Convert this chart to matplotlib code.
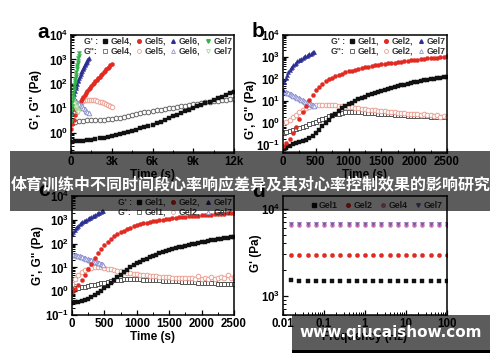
import matplotlib
matplotlib.use('Agg')
import matplotlib.pyplot as plt
from matplotlib.lines import Line2D
from matplotlib.patches import Rectangle
from matplotlib.ticker import LogLocator, NullFormatter, FixedLocator, MultipleLocator

plt.rcParams['font.family'] = ['Liberation Sans', 'DejaVu Sans']
plt.rcParams['font.weight'] = 'bold'
plt.rcParams['axes.labelweight'] = 'bold'
plt.rcParams['mathtext.fontset'] = 'custom'
plt.rcParams['mathtext.rm'] = 'Liberation Sans:bold'
plt.rcParams['mathtext.bf'] = 'Liberation Sans:bold'
plt.rcParams['mathtext.default'] = 'rm'

# ---------------- panel a (time sweep, 0-12k s) ----------------
t_a4 = list(range(0, 12001, 300))
a_gel4_g1 = [0.44, 0.46, 0.47, 0.48, 0.50, 0.52, 0.55, 0.59, 0.63, 0.68, 0.74, 0.79, 0.87, 0.95,
             1.07, 1.20, 1.35, 1.51, 1.70, 1.95, 2.19, 2.51, 2.88, 3.39, 3.98, 4.68, 5.50, 6.46,
             7.59, 8.91, 10.2, 12.0, 13.8, 16.2, 19.1, 21.9, 25.7, 30.2, 34.7, 40.7, 46.8]
a_gel4_g2 = [2.5, 2.9, 3.0, 3.1, 3.2, 3.2, 3.3, 3.4, 3.5, 3.6, 3.7, 3.9, 4.2, 4.6, 5.0, 5.5, 5.9,
             6.3, 6.8, 7.2, 7.8, 8.3, 8.9, 9.5, 10.2, 10.7, 11.2, 12.0, 12.9, 13.8, 14.8, 15.8,
             17.0, 18.2, 19.1, 20.0, 20.9, 21.9, 22.9, 24.0, 24.5]
t_a5 = list(range(0, 3001, 100))
a_gel5_g1 = [1.4, 2.2, 3.5, 5.6, 8.3, 11.5, 15.1, 19.5, 24.5, 30.2, 36.3, 43.7, 51.3, 60.3, 70.8,
             83.2, 95.5, 112, 129, 148, 170, 195, 224, 257, 295, 339, 389, 447, 513, 589, 676]
t_a5b = list(range(300, 3001, 150))
a_gel5_g2 = [6.3, 9.5, 13.2, 16.6, 19.5, 21.4, 22.4, 22.9, 22.9, 22.4, 21.4, 20.4, 19.1, 17.8,
             16.2, 14.8, 13.5, 12.3, 11.2]
t_a6 = list(range(0, 1301, 50))
a_gel6_g1 = [3.2, 6.3, 11.2, 17.8, 26.9, 38.0, 51.3, 66.1, 83.2, 102, 126, 151, 182, 214, 251,
             295, 339, 389, 447, 513, 575, 646, 724, 813, 912, 1023, 1148]
t_a6b = list(range(0, 1301, 100))
a_gel6_g2 = [26, 25, 23, 21, 19.5, 17.4, 15.5, 13.8, 12.0, 10.7, 9.3, 8.1, 7.1, 6.3]
t_a7 = list(range(0, 601, 25))
a_gel7_g1 = [2.8, 5.0, 8.3, 12.6, 18.2, 25.1, 33.1, 43.7, 56.2, 70.8, 87.1, 107, 132, 158, 191,
             229, 316, 398, 479, 589, 708, 891, 1122, 1413, 1778]
t_a7b = list(range(0, 551, 50))
a_gel7_g2 = [28, 25, 22, 19.5, 17, 14.8, 12.9, 11.2, 9.8, 8.7, 7.9, 7.2]

# ---------------- panels b and c (0-2500 s) ----------------
t_bc = list(range(0, 2501, 50))
t_g7 = list(range(0, 481, 20))
b_gel1_g1 = [0.071, 0.079, 0.095, 0.112, 0.132, 0.148, 0.162, 0.178, 0.209, 0.263, 0.355, 0.501,
             0.724, 1.05, 1.48, 2.04, 2.75, 3.63, 4.68, 5.89, 7.24, 8.71, 10.2, 12.0, 14.1, 16.2,
             18.6, 20.9, 23.4, 26.3, 29.5, 33.1, 36.3, 39.8, 43.7, 47.9, 52.5, 56.2, 61.7, 66.1,
             70.8, 75.9, 81.3, 87.1, 93.3, 97.7, 105, 110, 115, 120, 126]
b_gel1_g2 = [0.35, 0.40, 0.44, 0.48, 0.54, 0.60, 0.69, 0.79, 0.91, 1.05, 1.20, 1.38, 1.58, 1.82,
             2.04, 2.29, 2.51, 2.75, 2.95, 3.09, 3.16, 3.16, 3.16, 3.09, 3.09, 3.02, 2.95, 2.88,
             2.82, 2.75, 2.69, 2.63, 2.57, 2.51, 2.45, 2.40, 2.34, 2.29, 2.24, 2.19, 2.19, 2.14,
             2.09, 2.04, 2.04, 2.00, 1.95, 1.95, 1.91, 1.86, 1.86]
b_gel2_g1 = [0.089, 0.126, 0.2, 0.355, 0.708, 1.58, 3.16, 6.31, 11.2, 20.0, 31.6, 45.7, 61.7, 79.4,
             97.7, 117, 138, 158, 178, 200, 224, 245, 269, 295, 316, 339, 363, 389, 417, 437, 468,
             490, 513, 537, 562, 589, 617, 646, 676, 708, 741, 776, 794, 832, 871, 891, 933, 955,
             1000, 1023, 1072]
b_gel2_g2 = [1.0, 1.2, 1.48, 1.86, 2.4, 3.16, 3.98, 4.79, 5.5, 6.17, 6.61, 6.92, 7.08, 7.08, 7.08,
             6.92, 6.61, 6.31, 6.03, 5.75, 5.5, 5.25, 5.01, 4.79, 4.57, 4.37, 4.17, 3.98, 3.8, 3.72,
             3.55, 3.47, 3.31, 3.16, 3.09, 3.02, 2.95, 2.82, 2.75, 2.69, 2.63, 2.57, 2.4, 2.51,
             2.29, 2.45, 2.19, 2.34, 2.0, 2.14, 1.95]
b_gel7_g1 = [31.6, 70.8, 112, 158, 209, 263, 316, 372, 437, 501, 562, 631, 708, 776, 851, 933,
             1023, 1096, 1175, 1259, 1349, 1445, 1514, 1622, 1698]
b_gel7_g2 = [28.2, 26.9, 25.7, 24.5, 23.4, 21.9, 20.4, 19.1, 17.8, 16.6, 15.5, 14.5, 13.5, 12.6,
             11.7, 11.0, 10.2, 9.55, 8.91, 8.32, 7.76, 7.24, 6.92, 6.61, 6.31]

c_gel1_g1 = [0.331, 0.339, 0.355, 0.38, 0.417, 0.468, 0.55, 0.661, 0.813, 1.02, 1.32, 1.7, 2.24,
             2.95, 3.89, 5.01, 6.46, 8.13, 10.0, 12.3, 14.8, 17.4, 20.4, 23.4, 26.9, 30.9, 34.7,
             38.9, 43.7, 47.9, 52.5, 57.5, 63.1, 69.2, 74.1, 79.4, 87.1, 93.3, 100, 105, 112, 120,
             126, 135, 141, 151, 158, 166, 174, 182, 191]
c_gel1_g2 = [1.32, 1.38, 1.41, 1.48, 1.55, 1.62, 1.74, 1.86, 2.0, 2.14, 2.29, 2.45, 2.63, 2.82,
             2.95, 3.09, 3.16, 3.24, 3.24, 3.24, 3.16, 3.16, 3.09, 3.02, 3.02, 2.95, 2.88, 2.82,
             2.75, 2.75, 2.69, 2.63, 2.57, 2.57, 2.51, 2.45, 2.4, 2.4, 2.34, 2.29, 2.29, 2.24,
             2.19, 2.19, 2.14, 2.09, 2.09, 2.04, 2.0, 2.0, 1.95]
c_gel2_g1 = [0.89, 1.2, 1.74, 2.82, 4.79, 8.32, 14.5, 24.5, 39.8, 60.3, 87.1, 120, 158, 204, 251,
             302, 355, 407, 468, 525, 589, 646, 708, 759, 813, 871, 933, 977, 1023, 1072, 1122,
             1175, 1230, 1259, 1318, 1349, 1413, 1445, 1479, 1514, 1549, 1585, 1622, 1660, 1698,
             1738, 1778, 1820, 1862, 1905, 1950]
c_gel2_g2 = [2.0, 3.16, 4.79, 6.31, 7.59, 8.71, 9.55, 10.0, 10.2, 10.0, 9.55, 8.91, 8.32, 7.76,
             7.24, 6.76, 6.31, 6.03, 5.75, 5.5, 5.25, 5.01, 4.79, 4.68, 4.47, 4.37, 4.17, 4.07,
             3.98, 3.89, 3.8, 3.72, 3.63, 3.63, 3.55, 3.55, 3.47, 3.47, 3.39, 4.17, 3.39, 3.63,
             3.31, 3.98, 3.39, 3.55, 3.8, 3.47, 4.57, 3.72, 3.98]
c_gel7_g1 = [251, 316, 380, 447, 513, 575, 646, 708, 776, 851, 933, 1000, 1072, 1148, 1230, 1318,
             1413, 1514, 1622, 1738, 1862, 1995, 2138, 2291, 2455]
c_gel7_g2 = [35.5, 34.7, 33.9, 32.4, 31.6, 30.2, 28.8, 28.2, 26.9, 25.7, 24.5, 23.4, 22.4, 21.4,
             20.4, 19.5, 18.6, 17.8, 17.0, 16.2, 15.5, 14.8, 14.1, 13.5, 12.9]

# ---------------- panel d (frequency sweep) ----------------
freq_d = [0.0158, 0.0251, 0.0398, 0.0631, 0.1, 0.158, 0.251, 0.398, 0.631, 1.0, 1.58, 2.51,
          3.98, 6.31, 10.0, 15.8, 25.1, 39.8, 63.1, 100.0]
d_gel1 = [1500, 1495, 1490, 1490, 1485, 1490, 1485, 1480, 1485, 1480, 1480, 1478, 1480, 1475,
          1478, 1475, 1475, 1472, 1475, 1470]
d_gel2 = [2960, 2955, 2960, 2950, 2955, 2950, 2950, 2945, 2950, 2945, 2945, 2940, 2945, 2940,
          2940, 2938, 2940, 2935, 2938, 2935]
d_gel4 = [6500, 6490, 6500, 6490, 6495, 6485, 6490, 6480, 6485, 6480, 6480, 6475, 6480, 6470,
          6475, 6470, 6470, 6465, 6470, 6460]
d_gel7 = [6650, 6640, 6650, 6640, 6645, 6635, 6640, 6630, 6635, 6630, 6630, 6625, 6630, 6620,
          6625, 6620, 6620, 6615, 6620, 6610]

# colours / markers per gel: (marker, filled colour, open colour)
sty_bc = {
    'Gel1': ('s', '#111111', '#555555'),
    'Gel2': ('o', '#e02a22', '#eba093'),
    'Gel7': ('^', '#2c2f91', '#9093d2'),
}
sty_a = {
    'Gel4': ('s', '#111111', '#666666'),
    'Gel5': ('o', '#e02a22', '#eba093'),
    'Gel6': ('^', '#2c2f91', '#9093d2'),
    'Gel7': ('v', '#2fb44a', '#a3d98f'),
}

fig = plt.figure(figsize=(5.0, 3.62), dpi=100)
fig.patch.set_facecolor('white')

W, H = 500.0, 362.0
def add_ax(x0, y0, x1, y1):
    return fig.add_axes([x0 / W, 1 - y1 / H, (x1 - x0) / W, (y1 - y0) / H])

ax_a = add_ax(71, 35, 234, 153)
ax_b = add_ax(283, 35, 447, 153)
ax_c = add_ax(72, 196, 234, 315)
ax_d = add_ax(283, 196, 447, 315)

def pts(ax, x, y, marker, color, filled, ms=2.9):
    if filled:
        ax.plot(x, y, linestyle='none', marker=marker, ms=ms, mfc=color, mec=color, mew=0.3)
    else:
        ax.plot(x, y, linestyle='none', marker=marker, ms=ms + 0.4, mfc='white', mec=color, mew=0.7)

def style_log_axes(ax):
    ax.set_yscale('log')
    ax.yaxis.set_major_locator(LogLocator(base=10, numticks=20))
    ax.yaxis.set_minor_locator(LogLocator(base=10, subs=range(2, 10), numticks=20))
    ax.yaxis.set_minor_formatter(NullFormatter())
    ax.tick_params(which='both', direction='in', top=False, right=False, labelsize=8.3, pad=2)
    ax.tick_params(which='major', length=3.5, width=0.9)
    ax.tick_params(which='minor', length=2, width=0.7)
    for s in ax.spines.values():
        s.set_linewidth(1.1)

def gel_legend(ax, styles, fontsize):
    blank = Line2D([], [], linestyle='none', marker=None)
    handles = [blank, blank]
    labels = ["G' :", 'G":']
    names = list(styles)
    for i, n in enumerate(names):
        m, cf, co = styles[n]
        handles.append(Line2D([], [], linestyle='none', marker=m, ms=2.6, mfc=cf, mec=cf))
        handles.append(Line2D([], [], linestyle='none', marker=m, ms=2.8, mfc='white', mec=co, mew=0.6))
        lab = n + (',' if i < len(names) - 1 else '')
        labels += [lab, lab]
    ax.legend(handles, labels, ncol=len(names) + 1, loc='upper right', frameon=False,
              fontsize=fontsize, handlelength=0.6, handletextpad=0.35, columnspacing=0.5,
              labelspacing=0.12, borderaxespad=0.1, borderpad=0.1, labelcolor='#333333')

# panel a
pts(ax_a, t_a4, a_gel4_g2, 'o', '#666666', False)
pts(ax_a, t_a4, a_gel4_g1, 's', '#111111', True)
pts(ax_a, t_a5b, a_gel5_g2, 'o', '#eba093', False)
pts(ax_a, t_a5, a_gel5_g1, 'o', '#e02a22', True)
pts(ax_a, t_a6b, a_gel6_g2, '^', '#9093d2', False)
pts(ax_a, t_a6, a_gel6_g1, '^', '#2c2f91', True)
pts(ax_a, t_a7b, a_gel7_g2, 'v', '#a3d98f', False)
pts(ax_a, t_a7, a_gel7_g1, 'v', '#2fb44a', True)
style_log_axes(ax_a)
ax_a.set_xlim(0, 12000)
ax_a.set_ylim(0.15, 1e4)
ax_a.xaxis.set_major_locator(FixedLocator([0, 3000, 6000, 9000, 12000]))
ax_a.set_xticklabels(['0', '3k', '6k', '9k', '12k'])
ax_a.xaxis.set_minor_locator(MultipleLocator(1500))
gel_legend(ax_a, sty_a, 6.3)

# panels b, c
for ax, g1f, g1o, g2f, g2o, g7f, g7o in [
        (ax_b, b_gel1_g1, b_gel1_g2, b_gel2_g1, b_gel2_g2, b_gel7_g1, b_gel7_g2),
        (ax_c, c_gel1_g1, c_gel1_g2, c_gel2_g1, c_gel2_g2, c_gel7_g1, c_gel7_g2)]:
    pts(ax, t_bc, g1o, 's', '#555555', False, ms=2.6)
    pts(ax, t_bc, g2o, 'o', '#eba093', False)
    pts(ax, t_g7, g7o, '^', '#9093d2', False)
    pts(ax, t_bc, g1f, 's', '#111111', True)
    pts(ax, t_bc, g2f, 'o', '#e02a22', True)
    pts(ax, t_g7, g7f, '^', '#2c2f91', True)
    style_log_axes(ax)
    ax.set_xlim(0, 2500)
    ax.xaxis.set_major_locator(MultipleLocator(500))
    ax.xaxis.set_minor_locator(MultipleLocator(250))
    gel_legend(ax, sty_bc, 6.3)
ax_b.set_ylim(0.045, 1e4)
ax_c.set_ylim(0.1, 1e4)

for ax in (ax_a, ax_b, ax_c):
    ax.set_xlabel('Time (s)', fontsize=8.5, labelpad=1)

# panel d
pts(ax_d, freq_d, d_gel1, 's', '#111111', True, ms=3.0)
pts(ax_d, freq_d, d_gel2, 'o', '#e02a22', True, ms=3.0)
pts(ax_d, freq_d, d_gel4, 'o', '#d77ab8', True, ms=3.0)
pts(ax_d, freq_d, d_gel7, 'v', '#7b5aa6', True, ms=3.0)
style_log_axes(ax_d)
ax_d.set_xscale('log')
ax_d.set_xlim(0.01, 100)
ax_d.set_ylim(600, 14000)
ax_d.xaxis.set_major_locator(FixedLocator([0.01, 0.1, 1, 10, 100]))
ax_d.set_xticklabels(['0.01', '0.1', '1', '10', '100'])
ax_d.xaxis.set_minor_locator(LogLocator(base=10, subs=range(2, 10), numticks=20))
ax_d.xaxis.set_minor_formatter(NullFormatter())
ax_d.set_xlabel('Frequency (Hz)', fontsize=8.5, labelpad=1)
hd = [Line2D([], [], linestyle='none', marker='s', ms=2.6, color='#111111'),
      Line2D([], [], linestyle='none', marker='o', ms=2.6, color='#e02a22'),
      Line2D([], [], linestyle='none', marker='o', ms=2.6, color='#d77ab8'),
      Line2D([], [], linestyle='none', marker='v', ms=2.6, color='#7b5aa6')]
ax_d.legend(hd, ['Gel1', 'Gel2', 'Gel4', 'Gel7'], ncol=4, loc='upper right', frameon=False,
            fontsize=6.3, handlelength=0.6, handletextpad=0.3, columnspacing=0.9,
            borderaxespad=0.15, labelcolor='#333333')

# y labels
ax_a.set_ylabel('G\', G" (Pa)', fontsize=8.5)
ax_a.yaxis.set_label_coords(-0.18, 0.45)
ax_b.set_ylabel('G\', G" (Pa)', fontsize=8.5)
ax_b.yaxis.set_label_coords(-0.16, 0.37)
ax_c.set_ylabel('G\', G" (Pa)', fontsize=8.5)
ax_c.yaxis.set_label_coords(-0.17, 0.5)
ax_d.set_ylabel("G' (Pa)", fontsize=8.5)
ax_d.yaxis.set_label_coords(-0.13, 0.52)

# panel letters
for lab, x, y in [('a', 37, 38), ('b', 252, 37), ('c', 38, 196), ('d', 252, 197)]:
    fig.text(x / W, 1 - y / H, lab, fontsize=15, fontweight='bold', ha='left', va='baseline')

# overlay banner with title
fig.patches.append(Rectangle((10 / W, 1 - 211 / H), 480 / W, 60 / H, transform=fig.transFigure,
                             facecolor='black', alpha=0.64, edgecolor='none', zorder=10))
fig.text(251 / W, 1 - 184 / H, '体育训练中不同时间段心率响应差异及其对心率控制效果的影响研究',
         family=['Noto Sans CJK SC', 'DejaVu Sans'], fontsize=11.5, fontweight='bold',
         color='white', ha='center', va='center', zorder=11)

# watermark
fig.patches.append(Rectangle((292 / W, 1 - 350 / H), 198 / W, 35 / H, transform=fig.transFigure,
                             facecolor='black', alpha=0.64, edgecolor='none', zorder=10))
fig.patches.append(Rectangle((292 / W, 1 - 353 / H), 198 / W, 3 / H, transform=fig.transFigure,
                             facecolor='black', edgecolor='none', zorder=10))
fig.text(391 / W, 1 - 333 / H, 'www.qiucaishow.com', family=['DejaVu Sans'], fontsize=11,
         fontweight='bold', color='white', ha='center', va='center', zorder=11)

fig.savefig('out.png', dpi=100, facecolor='white')
